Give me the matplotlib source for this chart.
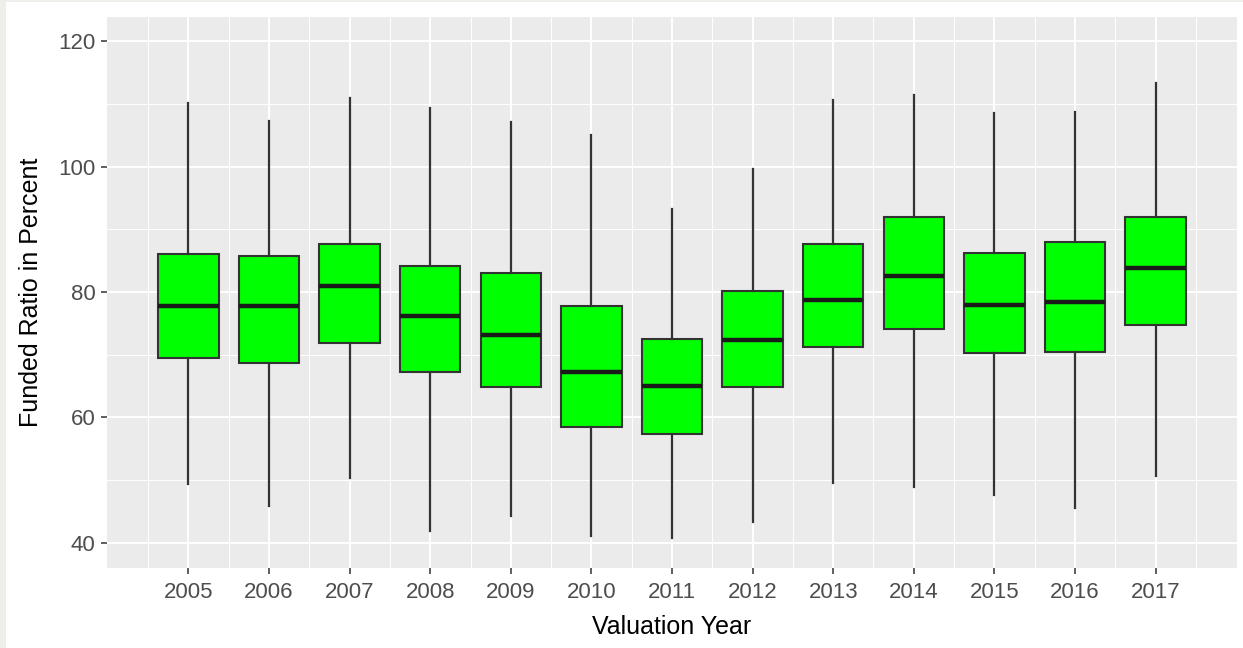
import matplotlib
matplotlib.use("Agg")
import matplotlib.pyplot as plt
from matplotlib.patches import Rectangle
from matplotlib.ticker import FixedLocator

# Funded ratio distribution per valuation year (percent)
years = [2005, 2006, 2007, 2008, 2009, 2010, 2011, 2012, 2013, 2014, 2015, 2016, 2017]
whisker_low = [49.4, 45.8, 50.3, 41.8, 44.3, 41.0, 40.8, 43.3, 49.5, 48.9, 47.6, 45.5, 50.7]
q1 = [69.4, 68.6, 71.8, 67.3, 64.9, 58.4, 57.4, 64.8, 71.3, 74.1, 70.2, 70.4, 74.7]
median = [77.8, 77.8, 81.0, 76.2, 73.2, 67.2, 65.0, 72.3, 78.7, 82.5, 78.0, 78.4, 83.9]
q3 = [86.0, 85.7, 87.7, 84.2, 83.1, 77.7, 72.5, 80.1, 87.7, 92.0, 86.3, 88.0, 92.0]
whisker_high = [110.1, 107.3, 111.0, 109.3, 107.1, 105.0, 93.3, 99.7, 110.6, 111.4, 108.6, 108.7, 113.4]
y_ticks = [40, 60, 80, 100, 120]

plt.rcParams["font.family"] = ["Liberation Sans", "DejaVu Sans"]

W, H = 1243, 648
fig = plt.figure(figsize=(W / 100, H / 100), dpi=100, facecolor="#EEEEEA")
# white page area with a thin grey margin on the left and top
fig.patches.append(Rectangle((6 / W, 0), 1 - 6 / W, 1 - 2 / H, transform=fig.transFigure,
                             facecolor="white", edgecolor="none", zorder=-10))

ax = fig.add_axes([107 / W, 1 - 568 / H, (1237 - 107) / W, (568 - 17) / H])
ax.set_facecolor("#EBEBEB")
for s in ax.spines.values():
    s.set_visible(False)

stats = []
for yr, lo, a, m, b, hi in zip(years, whisker_low, q1, median, q3, whisker_high):
    stats.append({"label": str(yr), "whislo": lo, "q1": a, "med": m, "q3": b, "whishi": hi})

ax.bxp(stats, positions=years, widths=0.75, patch_artist=True,
       showcaps=False, showfliers=False, manage_ticks=False,
       boxprops=dict(facecolor="#00FF00", edgecolor="#333333", linewidth=1.5),
       whiskerprops=dict(color="#333333", linewidth=1.6),
       medianprops=dict(color="#1A1A1A", linewidth=3.2, solid_capstyle="butt"))

ax.set_xlim(2003.99, 2018.01)
ax.set_ylim(35.95, 123.9)

ax.xaxis.set_major_locator(FixedLocator(years))
ax.xaxis.set_minor_locator(FixedLocator([y - 0.5 for y in years] + [years[-1] + 0.5]))
ax.yaxis.set_major_locator(FixedLocator(y_ticks))
ax.yaxis.set_minor_locator(FixedLocator([50, 70, 90, 110]))
ax.set_xticklabels([str(y) for y in years])
ax.set_yticklabels([str(v) for v in y_ticks])

ax.grid(which="major", color="white", linewidth=1.4)
ax.grid(which="minor", color="white", linewidth=0.7)
ax.set_axisbelow(True)

ax.tick_params(which="major", length=4.3, width=1.1, color="#333333",
               labelsize=16, labelcolor="#4D4D4D", pad=4)
ax.tick_params(axis="x", which="major", pad=5.5)
ax.tick_params(which="minor", length=0)

ax.set_xlabel("Valuation Year", fontsize=18, color="black", labelpad=9)
ax.set_ylabel("Funded Ratio in Percent", fontsize=18, color="black", labelpad=11)

fig.savefig("out.png", dpi=100, facecolor=fig.get_facecolor())
